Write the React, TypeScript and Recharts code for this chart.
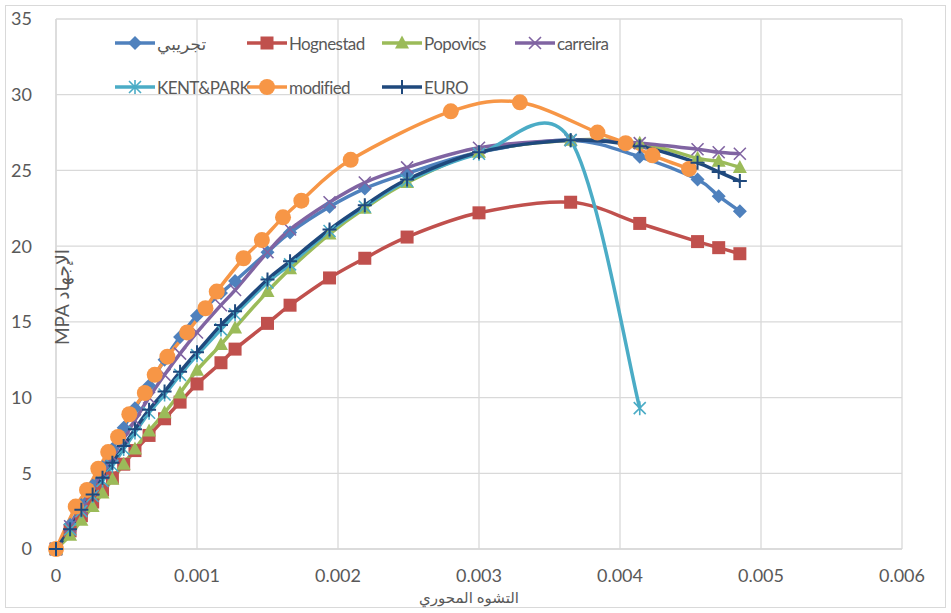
import { LineChart, Line, XAxis, YAxis, CartesianGrid } from 'recharts'

// strain values shared by the test and most of the models
const strain = [0, 0.0001, 0.00018, 0.00026, 0.00033, 0.0004, 0.00048, 0.00056, 0.00066, 0.00077, 0.00088, 0.001, 0.00117, 0.00127, 0.0015, 0.00166, 0.00194, 0.00219, 0.00249, 0.003, 0.00365, 0.00414, 0.00455, 0.0047, 0.00485]

const experimental = [0, 1.6, 2.9, 4.2, 5.4, 6.6, 8.0, 9.3, 10.8, 12.5, 14.0, 15.4, 16.9, 17.7, 19.6, 20.9, 22.6, 23.8, 24.8, 26.2, 27.0, 25.9, 24.4, 23.3, 22.3]
const hognestad = [0, 1.2, 2.2, 3.1, 3.9, 4.7, 5.6, 6.5, 7.5, 8.6, 9.7, 10.9, 12.3, 13.2, 14.9, 16.1, 17.9, 19.2, 20.6, 22.2, 22.9, 21.5, 20.3, 19.9, 19.5]
const popovics = [0, 0.9, 1.9, 2.8, 3.7, 4.6, 5.6, 6.6, 7.8, 9.0, 10.3, 11.8, 13.5, 14.6, 17.0, 18.5, 20.8, 22.5, 24.2, 26.2, 27.0, 26.8, 25.8, 25.6, 25.2]
const carreira = [0, 1.5, 2.7, 3.9, 5.0, 6.1, 7.3, 8.5, 10.0, 11.5, 12.9, 14.3, 16.1, 17.1, 19.6, 21.1, 22.9, 24.2, 25.2, 26.5, 27.0, 26.8, 26.4, 26.2, 26.1]
const kentPark = [0, 1.3, 2.5, 3.5, 4.5, 5.5, 6.6, 7.7, 9.0, 10.2, 11.5, 12.8, 14.5, 15.5, 17.6, 18.8, 21.0, 22.6, 24.3, 26.1, 27.0, 9.3]
const euro = [0, 1.3, 2.6, 3.6, 4.7, 5.7, 6.8, 7.9, 9.2, 10.4, 11.7, 13.0, 14.8, 15.7, 17.8, 19.0, 21.1, 22.7, 24.4, 26.2, 27.0, 26.6, 25.5, 24.9, 24.3]

// the modified model has its own strain points
const modifiedStrain = [0, 0.00014, 0.00022, 0.0003, 0.00037, 0.00044, 0.00052, 0.00063, 0.0007, 0.00079, 0.00093, 0.00106, 0.00114, 0.00133, 0.00146, 0.00161, 0.00174, 0.00209, 0.0028, 0.00329, 0.00384, 0.00404, 0.00423, 0.00449]
const modified = [0, 2.8, 3.9, 5.3, 6.4, 7.4, 8.9, 10.3, 11.5, 12.7, 14.3, 15.9, 17.0, 19.2, 20.4, 21.9, 23.0, 25.7, 28.9, 29.5, 27.5, 26.8, 26.0, 25.1]

const xTicks = [0, 0.001, 0.002, 0.003, 0.004, 0.005, 0.006]
const yTicks = [0, 5, 10, 15, 20, 25, 30, 35]

const FONT = "Lato, 'DejaVu Sans', sans-serif"
const TEXT = '#595959'
const GRID = '#d9d9d9'

const pts = (xs: number[], ys: number[]) => ys.map((y, i) => ({ x: xs[i], y }))

type Shape = 'diamond' | 'square' | 'triangle' | 'cross' | 'star' | 'circle' | 'plus'

const series: { name: string; color: string; shape: Shape; data: { x: number; y: number }[] }[] = [
  { name: 'تجريبي', color: '#4f81bd', shape: 'diamond', data: pts(strain, experimental) },
  { name: 'Hognestad', color: '#c0504d', shape: 'square', data: pts(strain, hognestad) },
  { name: 'Popovics', color: '#9bbb59', shape: 'triangle', data: pts(strain, popovics) },
  { name: 'carreira', color: '#8064a2', shape: 'cross', data: pts(strain, carreira) },
  { name: 'KENT&PARK', color: '#4bacc6', shape: 'star', data: pts(strain, kentPark) },
  { name: 'modified', color: '#f79646', shape: 'circle', data: pts(modifiedStrain, modified) },
  { name: 'EURO', color: '#1f497d', shape: 'plus', data: pts(strain, euro) },
]

// Excel-like smoothed line (Catmull-Rom through the points)
const excelCurve = (context: any) => {
  let p: number[][] = []
  return {
    areaStart() {},
    areaEnd() {},
    lineStart() { p = [] },
    point(x: number, y: number) { p.push([+x, +y]) },
    lineEnd() {
      if (!p.length) return
      context.moveTo(p[0][0], p[0][1])
      for (let i = 0; i < p.length - 1; i++) {
        const p0 = p[i - 1] || p[i]
        const p1 = p[i]
        const p2 = p[i + 1]
        const p3 = p[i + 2] || p2
        context.bezierCurveTo(
          p1[0] + (p2[0] - p0[0]) / 6, p1[1] + (p2[1] - p0[1]) / 6,
          p2[0] - (p3[0] - p1[0]) / 6, p2[1] - (p3[1] - p1[1]) / 6,
          p2[0], p2[1]
        )
      }
    },
  }
}

const Marker = ({ shape, cx, cy, color }: { shape: Shape; cx: number; cy: number; color: string }) => {
  switch (shape) {
    case 'diamond':
      return <path d={`M${cx},${cy - 7}L${cx + 7},${cy}L${cx},${cy + 7}L${cx - 7},${cy}Z`} fill={color} />
    case 'square':
      return <rect x={cx - 6.5} y={cy - 6.5} width={13} height={13} fill={color} />
    case 'triangle':
      return <path d={`M${cx},${cy - 7.5}L${cx + 7},${cy + 5.5}L${cx - 7},${cy + 5.5}Z`} fill={color} />
    case 'cross':
      return <path d={`M${cx - 6},${cy - 6}L${cx + 6},${cy + 6}M${cx + 6},${cy - 6}L${cx - 6},${cy + 6}`} stroke={color} strokeWidth={1.6} />
    case 'star':
      return <path d={`M${cx - 6},${cy - 6}L${cx + 6},${cy + 6}M${cx + 6},${cy - 6}L${cx - 6},${cy + 6}M${cx},${cy - 7}L${cx},${cy + 7}`} stroke={color} strokeWidth={1.6} />
    case 'circle':
      return <circle cx={cx} cy={cy} r={8} fill={color} />
    default:
      return <path d={`M${cx - 7},${cy}L${cx + 7},${cy}M${cx},${cy - 7}L${cx},${cy + 7}`} stroke={color} strokeWidth={2} />
  }
}

const legendPos = [
  [115, 43], [247, 43], [382, 43], [515, 43],
  [115, 87], [247, 87], [382, 87],
]

const App = () => {
  return (
    <div style={{ position: 'absolute', left: 0, top: 0, width: 951, height: 613, background: '#fff', fontFamily: FONT }}>
      <div style={{ position: 'absolute', left: 5, top: 5, width: 939, height: 601, border: `1px solid ${GRID}` }} />
      <LineChart width={951} height={613} margin={{ top: 19, right: 49, left: 0, bottom: 0 }}>
        <CartesianGrid stroke={GRID} strokeWidth={1.3} />
        <XAxis
          type="number"
          dataKey="x"
          domain={[0, 0.006]}
          ticks={xTicks}
          height={64}
          tickFormatter={(v: number) => (v === 0 ? '0' : v.toFixed(3))}
          tick={{ fill: TEXT, fontSize: 18, fontFamily: FONT }}
          tickLine={false}
          tickSize={0}
          tickMargin={20}
          axisLine={{ stroke: GRID, strokeWidth: 1.3 }}
        />
        <YAxis
          type="number"
          domain={[0, 35]}
          ticks={yTicks}
          width={56}
          tick={{ fill: TEXT, fontSize: 18, fontFamily: FONT }}
          tickLine={false}
          tickSize={0}
          tickMargin={24}
          axisLine={{ stroke: GRID, strokeWidth: 1.3 }}
        />
        {series.map((s) => (
          <Line
            key={s.name}
            data={s.data}
            dataKey="y"
            name={s.name}
            type={excelCurve as any}
            stroke={s.color}
            strokeWidth={3.5}
            isAnimationActive={false}
            dot={(p: any) => <Marker key={`${s.name}-${p.index}`} shape={s.shape} cx={p.cx} cy={p.cy} color={s.color} />}
            activeDot={false}
          />
        ))}
      </LineChart>

      {series.map((s, i) => (
        <div
          key={s.name}
          style={{ position: 'absolute', left: legendPos[i][0], top: legendPos[i][1] - 11, height: 22, display: 'flex', alignItems: 'center', whiteSpace: 'nowrap' }}
        >
          <svg width={40} height={22}>
            <line x1={0} y1={11} x2={40} y2={11} stroke={s.color} strokeWidth={3.5} />
            <Marker shape={s.shape} cx={20} cy={11} color={s.color} />
          </svg>
          <span style={{ marginLeft: 2, fontSize: 17, letterSpacing: -0.6, color: TEXT, fontFamily: FONT }}>{s.name}</span>
        </div>
      ))}

      <div style={{ position: 'absolute', left: 369, width: 200, top: 589, textAlign: 'center', fontSize: 15, color: TEXT, lineHeight: '17px', direction: 'rtl' }}>
        التشوه المحوري
      </div>
      <div
        style={{ position: 'absolute', left: 62 - 100, top: 297 - 12, width: 200, textAlign: 'center', fontSize: 19, color: TEXT, lineHeight: '24px', transform: 'rotate(-90deg)' }}
      >
        MPA الإجهاد
      </div>
    </div>
  )
}

export default App
